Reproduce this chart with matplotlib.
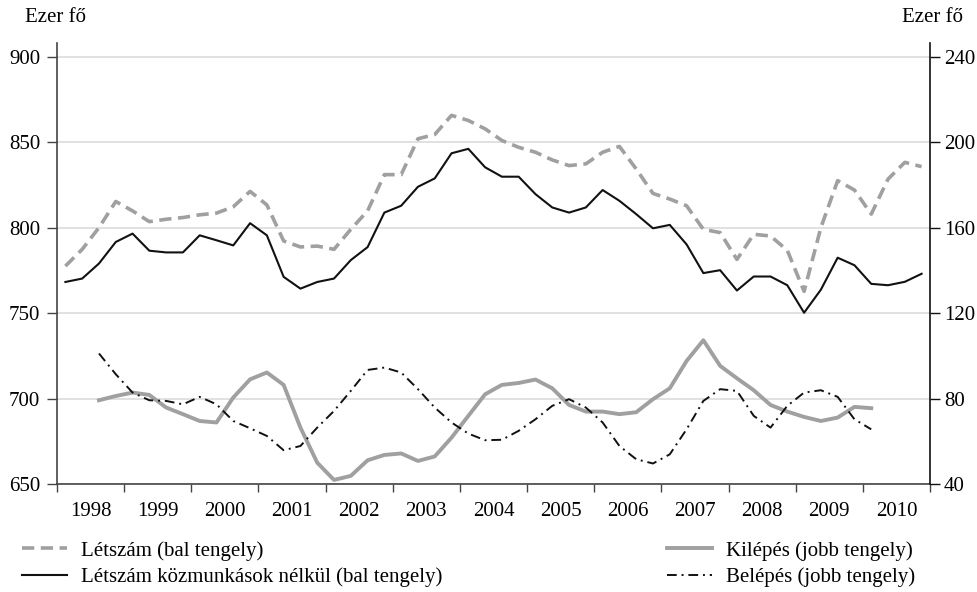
import numpy as np
import matplotlib
matplotlib.use('Agg')
import matplotlib.pyplot as plt
from matplotlib.lines import Line2D

plt.rcParams['font.family'] = ['Liberation Serif', 'DejaVu Serif']
plt.rcParams['font.size'] = 15

# quarterly data, 1998 Q1 - 2010 Q4 (left axis, thousand people)
letszam = [777.5, 787.3, 800.0, 815.3, 809.8, 803.5, 804.9, 805.9, 807.5, 808.5,
           812.2, 821.2, 813.3, 792.2, 788.7, 789.2, 787.3, 799.0, 809.8, 831.0,
           831.0, 852.0, 854.5, 865.7, 862.7, 857.8, 851.0, 847.0, 844.1, 839.6,
           836.3, 837.3, 844.1, 847.5, 834.3, 820.0, 816.7, 812.8, 799.0, 797.1,
           781.4, 796.1, 795.1, 786.7, 762.7, 800.0, 827.5, 822.0, 807.9, 828.4,
           838.2, 835.7]
letszam_kozm = [768.2, 770.2, 779.0, 791.6, 796.5, 786.5, 785.5, 785.5, 795.5, 792.6,
                789.6, 802.6, 795.5, 771.2, 764.3, 768.2, 770.2, 781.0, 788.6, 808.8,
                812.8, 823.9, 828.8, 843.5, 846.1, 835.3, 829.8, 829.8, 819.6, 811.8,
                808.8, 811.8, 822.0, 815.7, 807.9, 799.6, 801.6, 790.2, 773.4, 775.1,
                763.2, 771.4, 771.4, 766.3, 750.2, 763.7, 782.4, 778.0, 767.1, 766.3,
                768.3, 773.0]

# right axis, from 1998 Q3 to 2010 Q1
kilepes = [79.2, 81.2, 82.8, 81.7, 75.8, 72.7, 69.5, 68.8, 80.5, 89.0,
           92.2, 86.4, 66.4, 50.0, 41.9, 43.8, 51.1, 53.6, 54.3, 50.8,
           52.9, 61.7, 71.9, 82.0, 86.4, 87.3, 88.9, 84.8, 77.0, 73.9,
           73.9, 72.7, 73.6, 79.7, 84.8, 97.6, 107.3, 95.3, 89.5, 83.9,
           77.0, 73.9, 71.4, 69.5, 71.1, 76.1, 75.5]
belepes = [101.1, 91.4, 82.8, 79.2, 78.9, 77.3, 80.8, 77.3, 69.5, 66.1,
           62.5, 55.8, 57.8, 66.4, 74.2, 83.6, 93.4, 94.5, 92.2, 84.4,
           75.8, 68.8, 63.6, 60.5, 60.7, 64.9, 70.3, 76.6, 79.7, 75.8,
           68.8, 57.8, 51.6, 49.6, 53.9, 65.6, 78.9, 84.4, 83.6, 71.9,
           66.4, 76.6, 82.8, 83.9, 80.8, 70.3, 65.6]

years = list(range(1998, 2011))

x_all = 1998 + (np.arange(len(letszam)) + 0.5) / 4
x_flow = x_all[2:2 + len(kilepes)]

grey = '#a0a0a0'
dash = (0, (3.4, 1.8))
dashdot = (0, (5, 2.5, 1, 2.5))

fig = plt.figure(figsize=(9.78, 5.92), dpi=100)
ax = fig.add_axes([57 / 978, 1 - 484 / 592, (930 - 57) / 978, (484 - 42.7) / 592])
ax2 = ax.twinx()

ax.plot(x_all, letszam, color=grey, lw=2.6, ls=dash)
ax.plot(x_all, letszam_kozm, color='#111111', lw=1.5)
ax2.plot(x_flow, kilepes, color=grey, lw=2.8)
ax2.plot(x_flow, belepes, color='#111111', lw=1.4, ls=dashdot)

ax.set_xlim(1998, 2011)
ax.set_ylim(650, 908.2)
ax2.set_ylim(40, 246.6)
ax.set_yticks([650, 700, 750, 800, 850, 900])
ax2.set_yticks([40, 80, 120, 160, 200, 240])

ax.set_xticks(range(1998, 2012))
ax.set_xticklabels([])
ax.set_xticks([y + 0.5 for y in years], minor=True)
ax.set_xticklabels([str(y) for y in years], minor=True)
ax.tick_params(axis='x', which='major', length=6, width=1, color='#444444', direction='out')
ax.tick_params(axis='x', which='minor', length=0, pad=13)
ax.tick_params(axis='y', length=7, width=1, color='#444444', pad=5)
ax2.tick_params(axis='y', length=7, width=1, color='#111111', pad=3)

ax.yaxis.grid(True, color='#d9d9d9', lw=1.1)
ax.set_axisbelow(True)

for a in (ax, ax2):
    a.spines['top'].set_visible(False)
ax.spines['left'].set_color('#444444')
ax.spines['bottom'].set_color('#444444')
ax.spines['right'].set_visible(False)
ax2.spines['left'].set_visible(False)
ax2.spines['bottom'].set_visible(False)
ax2.spines['right'].set_color('#111111')
for s in ('left', 'bottom'):
    ax.spines[s].set_linewidth(1.2)
ax2.spines['right'].set_linewidth(1.2)

fig.text(25 / 978, 1 - 8 / 592, 'Ezer fő', ha='left', va='top')
fig.text(963 / 978, 1 - 8 / 592, 'Ezer fő', ha='right', va='top')

h1 = Line2D([], [], color=grey, lw=2.6, ls=dash)
h2 = Line2D([], [], color='#111111', lw=1.5)
h3 = Line2D([], [], color=grey, lw=2.8)
h4 = Line2D([], [], color='#111111', lw=1.4, ls=dashdot)

leg_kw = dict(loc='upper left', frameon=False, borderpad=0, borderaxespad=0,
              handlelength=2.15, handletextpad=0.7, labelspacing=0.32)
fig.legend(handles=[h1, h2],
           labels=['Létszám (bal tengely)', 'Létszám közmunkások nélkül (bal tengely)'],
           bbox_to_anchor=(22 / 978, 1 - 541 / 592), **leg_kw)
fig.legend(handles=[h3, h4],
           labels=['Kilépés (jobb tengely)', 'Belépés (jobb tengely)'],
           bbox_to_anchor=(667 / 978, 1 - 541 / 592), **leg_kw)

plt.savefig('out.png', dpi=100)
plt.close()
